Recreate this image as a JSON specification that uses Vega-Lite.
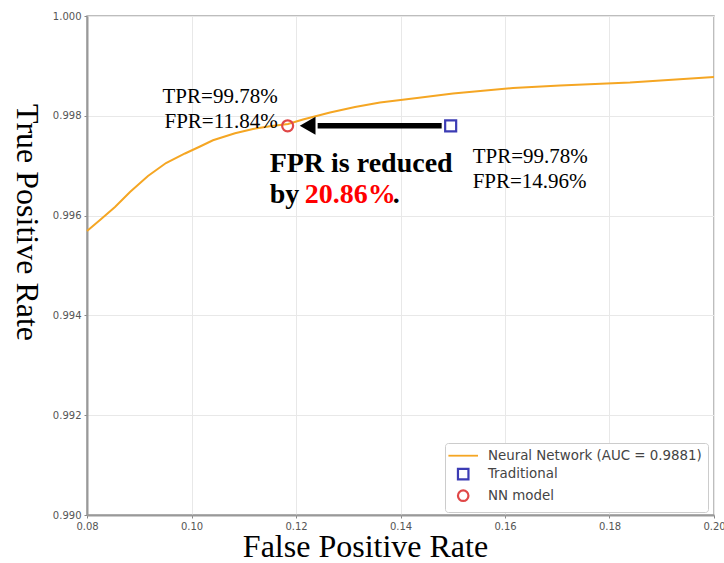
{
  "$schema": "https://vega.github.io/schema/vega-lite/v6.json",
  "width": 627,
  "height": 499,
  "autosize": {"type": "none"},
  "padding": {"left": 87, "top": 16, "right": 10, "bottom": 48},
  "background": "white",
  "config": {
    "view": {"stroke": "#a8a8a8", "strokeWidth": 1.5},
    "axis": {
      "labelFont": "DejaVu Sans",
      "labelFontSize": 10,
      "labelColor": "#555555",
      "tickColor": "#888888",
      "tickSize": 3,
      "gridColor": "#e8e8e8",
      "gridWidth": 1,
      "domainColor": "#999999",
      "domainWidth": 2,
      "titleFont": "Liberation Serif",
      "titleFontSize": 32,
      "titleFontWeight": "normal",
      "titleColor": "#000000"
    }
  },
  "datasets": {
    "roc": [
      {"fpr": 0.08000, "tpr": 0.995691, "series": "Neural Network (AUC = 0.9881)"},
      {"fpr": 0.08249, "tpr": 0.995912, "series": "Neural Network (AUC = 0.9881)"},
      {"fpr": 0.08536, "tpr": 0.996172, "series": "Neural Network (AUC = 0.9881)"},
      {"fpr": 0.08823, "tpr": 0.996473, "series": "Neural Network (AUC = 0.9881)"},
      {"fpr": 0.09167, "tpr": 0.996794, "series": "Neural Network (AUC = 0.9881)"},
      {"fpr": 0.09512, "tpr": 0.997054, "series": "Neural Network (AUC = 0.9881)"},
      {"fpr": 0.09876, "tpr": 0.997245, "series": "Neural Network (AUC = 0.9881)"},
      {"fpr": 0.10163, "tpr": 0.997385, "series": "Neural Network (AUC = 0.9881)"},
      {"fpr": 0.10411, "tpr": 0.997509, "series": "Neural Network (AUC = 0.9881)"},
      {"fpr": 0.10833, "tpr": 0.997649, "series": "Neural Network (AUC = 0.9881)"},
      {"fpr": 0.11177, "tpr": 0.997735, "series": "Neural Network (AUC = 0.9881)"},
      {"fpr": 0.11502, "tpr": 0.997790, "series": "Neural Network (AUC = 0.9881)"},
      {"fpr": 0.11847, "tpr": 0.997836, "series": "Neural Network (AUC = 0.9881)"},
      {"fpr": 0.12134, "tpr": 0.997926, "series": "Neural Network (AUC = 0.9881)"},
      {"fpr": 0.12651, "tpr": 0.998066, "series": "Neural Network (AUC = 0.9881)"},
      {"fpr": 0.13129, "tpr": 0.998176, "series": "Neural Network (AUC = 0.9881)"},
      {"fpr": 0.13608, "tpr": 0.998267, "series": "Neural Network (AUC = 0.9881)"},
      {"fpr": 0.14316, "tpr": 0.998357, "series": "Neural Network (AUC = 0.9881)"},
      {"fpr": 0.15005, "tpr": 0.998447, "series": "Neural Network (AUC = 0.9881)"},
      {"fpr": 0.16153, "tpr": 0.998557, "series": "Neural Network (AUC = 0.9881)"},
      {"fpr": 0.17053, "tpr": 0.998607, "series": "Neural Network (AUC = 0.9881)"},
      {"fpr": 0.18392, "tpr": 0.998667, "series": "Neural Network (AUC = 0.9881)"},
      {"fpr": 0.20000, "tpr": 0.998778, "series": "Neural Network (AUC = 0.9881)"}
    ],
    "pts": [
      {"name": "Traditional", "fpr": 0.1496, "tpr": 0.9978, "label": "TPR=99.78%\nFPR=14.96%"},
      {"name": "NN model", "fpr": 0.1184, "tpr": 0.9978, "label": "TPR=99.78%\nFPR=11.84%"}
    ],
    "arrow": [
      {"from": 0.1496, "to": 0.1184, "tpr": 0.9978}
    ]
  },
  "layer": [
    {
      "data": {"name": "roc"},
      "mark": {"type": "line", "strokeWidth": 2, "interpolate": "linear"},
      "encoding": {
        "x": {
          "field": "fpr", "type": "quantitative",
          "scale": {"domain": [0.08, 0.2], "nice": false, "zero": false},
          "axis": {
            "values": [0.08, 0.10, 0.12, 0.14, 0.16, 0.18, 0.20],
            "format": ".2f",
            "labelFlush": false,
            "labelPadding": 3,
            "title": "False Positive Rate",
            "titleX": 278,
            "titleY": 41,
            "titleAlign": "center",
            "titleBaseline": "alphabetic"
          }
        },
        "y": {
          "field": "tpr", "type": "quantitative",
          "scale": {"domain": [0.99, 1.0], "nice": false, "zero": false},
          "axis": {
            "values": [0.990, 0.992, 0.994, 0.996, 0.998, 1.000],
            "format": ".3f",
            "labelFlush": false,
            "labelPadding": 3,
            "title": "True Positive Rate",
            "titleAngle": 90,
            "titleX": -61,
            "titleY": 206,
            "titleAlign": "center",
            "titleBaseline": "middle"
          }
        },
        "color": {
          "field": "series", "type": "nominal",
          "scale": {
            "domain": ["Neural Network (AUC = 0.9881)", "Traditional", "NN model"],
            "range": ["#f5a623", "#3c3cb4", "#e04848"]
          },
          "legend": {
            "title": null,
            "orient": "none",
            "legendX": 358,
            "legendY": 427,
            "symbolSize": 121,
            "symbolOffset": 5.5,
            "symbolStrokeWidth": 2,
            "labelFont": "DejaVu Sans",
            "labelFontSize": 13.4,
            "labelColor": "#444444",
            "labelOffset": 18,
            "rowPadding": 1.5,
            "padding": 6,
            "strokeColor": "#cccccc",
            "fillColor": "#ffffff",
            "cornerRadius": 3,
            "labelLimit": 400,
            "encode": {
              "symbols": {
                "update": {
                  "shape": {"signal": "datum.value === 'Traditional' ? 'square' : (datum.value === 'NN model' ? 'circle' : 'M-2.82,0L2.82,0')"},
                  "size": {"value": 110},
                  "fill": {"value": "transparent"},
                  "strokeWidth": {"signal": "datum.value === 'Traditional' || datum.value === 'NN model' ? 2.2 : 1.8"}
                }
              }
            }
          }
        }
      }
    },
    {
      "data": {"name": "arrow"},
      "mark": {"type": "rule", "color": "#000000", "strokeWidth": 5.5, "xOffset": -9, "x2Offset": 30},
      "encoding": {
        "x": {"field": "from", "type": "quantitative"},
        "x2": {"field": "to"},
        "y": {"field": "tpr", "type": "quantitative"}
      }
    },
    {
      "data": {"name": "arrow"},
      "mark": {"type": "point", "shape": "triangle-left", "filled": true, "color": "#000000", "opacity": 1, "size": 330, "xOffset": 20},
      "encoding": {
        "x": {"field": "to", "type": "quantitative"},
        "y": {"field": "tpr", "type": "quantitative"}
      }
    },
    {
      "data": {"name": "pts"},
      "mark": {"type": "point", "filled": false, "strokeWidth": 2.2, "size": 121, "opacity": 1},
      "encoding": {
        "x": {"field": "fpr", "type": "quantitative"},
        "y": {"field": "tpr", "type": "quantitative"},
        "color": {"field": "name", "type": "nominal"},
        "shape": {
          "field": "name", "type": "nominal",
          "scale": {"domain": ["Traditional", "NN model"], "range": ["square", "circle"]},
          "legend": null
        }
      }
    },
    {
      "data": {"name": "pts"},
      "transform": [{"filter": "datum.name === 'NN model'"}],
      "mark": {"type": "text", "align": "right", "baseline": "alphabetic", "dx": -10, "dy": -23, "font": "Liberation Serif", "fontSize": 21, "lineBreak": "\n", "lineHeight": 25, "color": "#000000"},
      "encoding": {
        "x": {"field": "fpr", "type": "quantitative"},
        "y": {"field": "tpr", "type": "quantitative"},
        "text": {"field": "label"}
      }
    },
    {
      "data": {"name": "pts"},
      "transform": [{"filter": "datum.name === 'Traditional'"}],
      "mark": {"type": "text", "align": "left", "baseline": "alphabetic", "dx": 22, "dy": 37, "font": "Liberation Serif", "fontSize": 21, "lineBreak": "\n", "lineHeight": 25, "color": "#000000"},
      "encoding": {
        "x": {"field": "fpr", "type": "quantitative"},
        "y": {"field": "tpr", "type": "quantitative"},
        "text": {"field": "label"}
      }
    },
    {
      "data": {"name": "pts"},
      "transform": [{"filter": "datum.name === 'NN model'"}],
      "mark": {"type": "text", "align": "left", "baseline": "alphabetic", "dx": -18, "dy": 46, "font": "Liberation Serif", "fontSize": 28, "fontWeight": "bold", "color": "#000000", "text": "FPR is reduced"},
      "encoding": {
        "x": {"field": "fpr", "type": "quantitative"},
        "y": {"field": "tpr", "type": "quantitative"}
      }
    },
    {
      "data": {"name": "pts"},
      "transform": [{"filter": "datum.name === 'NN model'"}],
      "mark": {"type": "text", "align": "left", "baseline": "alphabetic", "dx": -18, "dy": 77, "font": "Liberation Serif", "fontSize": 28, "fontWeight": "bold", "color": "#000000", "text": "by"},
      "encoding": {
        "x": {"field": "fpr", "type": "quantitative"},
        "y": {"field": "tpr", "type": "quantitative"}
      }
    },
    {
      "data": {"name": "pts"},
      "transform": [{"filter": "datum.name === 'NN model'"}],
      "mark": {"type": "text", "align": "left", "baseline": "alphabetic", "dx": 17, "dy": 77, "font": "Liberation Serif", "fontSize": 28, "fontWeight": "bold", "color": "#ff0000", "text": "20.86%"},
      "encoding": {
        "x": {"field": "fpr", "type": "quantitative"},
        "y": {"field": "tpr", "type": "quantitative"}
      }
    },
    {
      "data": {"name": "pts"},
      "transform": [{"filter": "datum.name === 'NN model'"}],
      "mark": {"type": "text", "align": "left", "baseline": "alphabetic", "dx": 105, "dy": 77, "font": "Liberation Serif", "fontSize": 28, "fontWeight": "bold", "color": "#000000", "text": "."},
      "encoding": {
        "x": {"field": "fpr", "type": "quantitative"},
        "y": {"field": "tpr", "type": "quantitative"}
      }
    }
  ]
}
